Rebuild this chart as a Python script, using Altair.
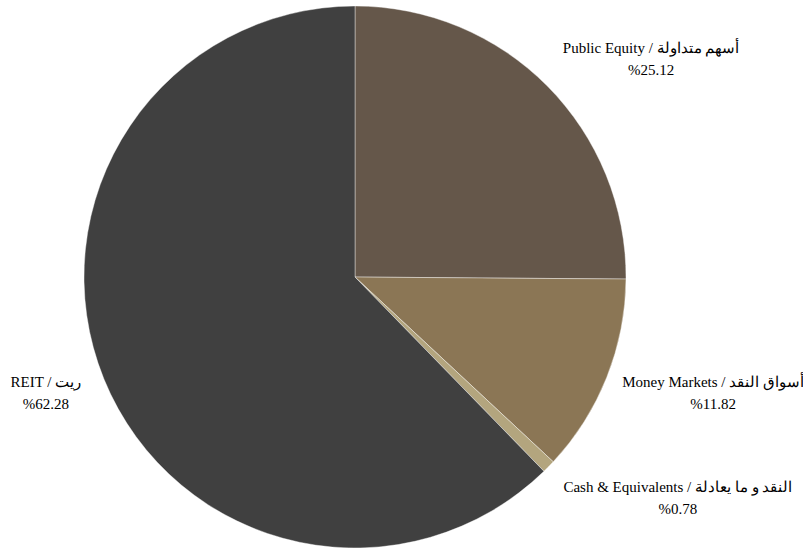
import altair as alt
import pandas as pd

labels_en = ["Public Equity", "Money Markets", "Cash & Equivalents", "REIT"]
labels_ar = ["أسهم متداولة", "أسواق النقد", "النقد و ما يعادلة", "ريت"]
values = [25.12, 11.82, 0.78, 62.28]
colors = ["#65574A", "#8B7655", "#B3A57E", "#404040"]

df = pd.DataFrame({
    "name": labels_en,
    "ar": labels_ar,
    "value": values,
    "order": list(range(len(values))),
})
df["label"] = [[f"{e} / {a}", f"%{v:.2f}"] for e, a, v in zip(labels_en, labels_ar, values)]

CX, CY, R = 355, 277, 271

pie = alt.Chart(df).mark_arc(stroke="#ffffff", strokeWidth=0.4).encode(
    theta=alt.Theta("value:Q", stack=True),
    order=alt.Order("order:Q"),
    color=alt.Color("name:N", scale=alt.Scale(domain=labels_en, range=colors), legend=None),
    x=alt.value(CX), y=alt.value(CY), radius=alt.value(R),
)

offsets = {
    "Public Equity": (37, 28),
    "Money Markets": (19, -30),
    "Cash & Equivalents": (62, -45),
    "REIT": (29, -32),
}

text_base = alt.Chart(df).transform_stack(
    stack="value", groupby=[], as_=["s0", "s1"], sort=[alt.SortField("order")]
).transform_calculate(mid="(datum.s0 + datum.s1) / 2")

layers = [pie]
for name, (dx, dy) in offsets.items():
    layers.append(
        text_base.transform_filter(alt.datum.name == name)
        .mark_text(font="Liberation Serif", fontSize=15, color="#000000",
                   align="center", baseline="middle", lineHeight=22,
                   dx=dx, dy=dy)
        .encode(
            theta=alt.Theta("mid:Q", stack=None, scale=alt.Scale(domain=[0, 100], range=[0, 6.283185307179586])),
            text="label",
            x=alt.value(CX), y=alt.value(CY), radius=alt.value(365),
        )
    )

chart = alt.layer(*layers).properties(
    width=803, height=548,
    autosize=alt.AutoSizeParams(type="none"),
    padding=0,
).configure_view(stroke=None)

chart.save("out.html", embed_options={"renderer": "svg", "actions": False})
